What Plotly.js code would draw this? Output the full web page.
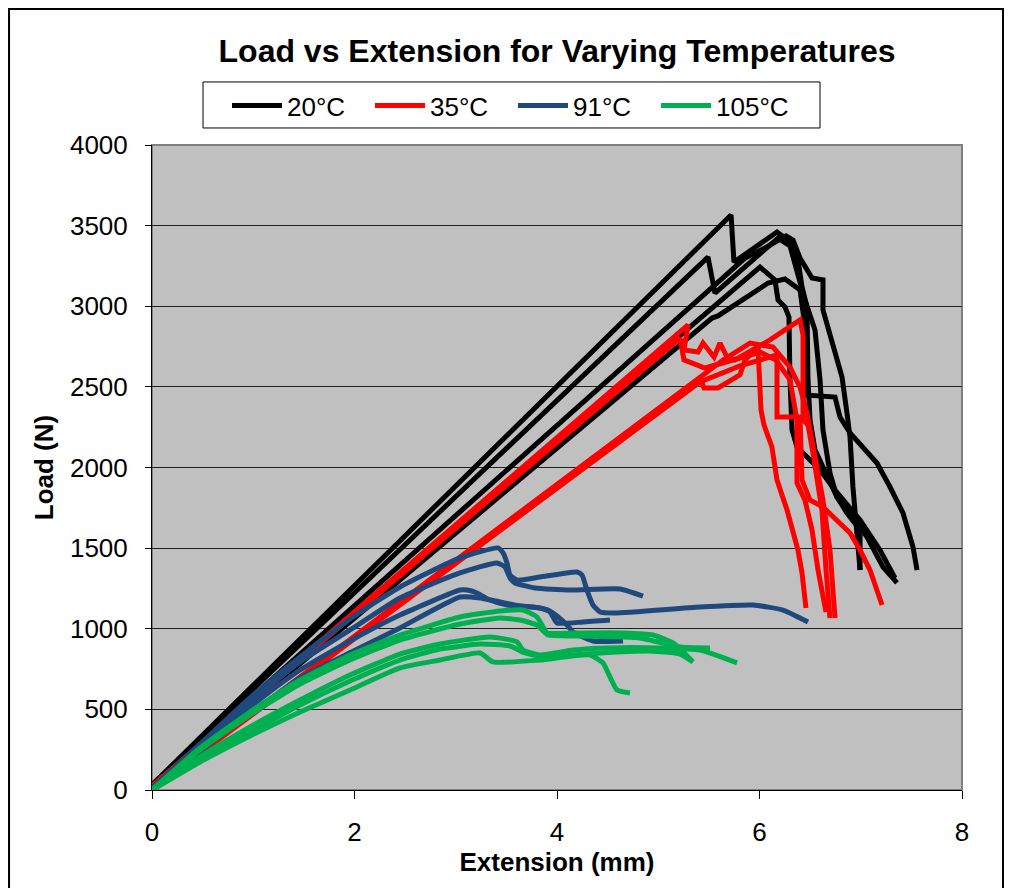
<!DOCTYPE html>
<html>
<head>
<meta charset="utf-8">
<script src="https://cdn.plot.ly/plotly-3.0.1.min.js"></script>
<style>
html,body{margin:0;padding:0;background:#fff;}
#chart{width:1009px;height:888px;}
</style>
</head>
<body>
<div id="chart"></div>
<script>
// ---- Data (Extension in mm, Load in N) ----
// 20°C specimens
const b1x = [0, 5.719, 5.748, 6.173, 6.281, 6.370, 6.420, 6.469, 6.479, 6.499, 6.548, 6.667, 6.765, 6.864, 6.993, 6.993];
const b1y = [31, 3566, 3274, 3460, 3411, 3330, 3119, 2995, 2543, 2295, 2109, 1941, 1817, 1718, 1612, 1364];
const b2x = [0, 5.491, 5.560, 6.183, 6.301, 6.370, 6.449, 6.548, 6.598, 6.627, 6.696, 6.765, 6.894, 7.062, 7.220, 7.358];
const b2y = [31, 3305, 3082, 3423, 3374, 3225, 3039, 2853, 2543, 2233, 1966, 1817, 1718, 1569, 1383, 1284];
const b3x = [0, 5.531, 5.590, 6.005, 6.084, 6.252, 6.400, 6.440, 6.449, 6.746, 6.795, 6.894, 7.160, 7.289, 7.417, 7.516, 7.556];
const b3y = [12, 2927, 2940, 3107, 3144, 3169, 3101, 2915, 2450, 2437, 2313, 2214, 2028, 1879, 1718, 1507, 1364];
const b4x = [0, 6.005, 6.153, 6.183, 6.252, 6.291, 6.301, 6.321, 6.370, 6.469, 6.598, 6.746, 6.993, 7.190, 7.338];
const b4y = [19, 3243, 3163, 3039, 2995, 2933, 2543, 2233, 2127, 2065, 1985, 1860, 1674, 1488, 1315];
const b5x = [0, 5.857, 6.054, 6.262, 6.331, 6.400, 6.519, 6.627, 6.627, 6.696, 6.765, 6.815, 6.864, 6.894, 6.923, 6.963, 6.993];
const b5y = [25, 3299, 3361, 3436, 3411, 3299, 3175, 3163, 2977, 2834, 2685, 2561, 2338, 2189, 1879, 1612, 1364];

// 35°C specimens
const r1x = [0, 5.294, 5.254, 5.393, 5.442, 5.551, 5.610, 5.679, 5.758, 6.104, 6.400, 6.430, 6.430, 6.479, 6.528, 6.578, 6.617, 6.657, 6.696];
const r1y = [25, 2884, 2729, 2716, 2772, 2685, 2772, 2685, 2667, 2791, 2915, 2822, 2295, 2264, 2090, 1904, 1736, 1364, 1067];
const r2x = [0, 5.640, 5.906, 6.133, 6.301, 6.400, 6.469, 6.499, 6.568, 6.627, 6.696, 6.746];
const r2y = [12, 2667, 2772, 2747, 2623, 2499, 2338, 2233, 2003, 1798, 1488, 1067];
const r3x = [0, 5.412, 5.452, 5.590, 5.807, 5.857, 5.985, 6.005, 6.015, 6.044, 6.123, 6.173, 6.272, 6.380, 6.420, 6.459];
const r3y = [12, 2555, 2493, 2493, 2574, 2667, 2747, 2543, 2357, 2264, 2127, 1922, 1736, 1488, 1346, 1129];
const r4x = [0, 5.412, 5.807, 6.104, 6.173, 6.173, 6.400, 6.420, 6.499, 6.627, 6.765, 6.894, 6.993, 7.091, 7.210];
const r4y = [6, 2530, 2630, 2679, 2698, 2313, 2313, 1922, 1798, 1755, 1674, 1594, 1488, 1364, 1147];
const r5x = [0, 5.215, 5.254, 5.462, 5.807, 6.005, 6.163, 6.301, 6.370, 6.370, 6.449, 6.519, 6.578, 6.657];
const r5y = [25, 2803, 2667, 2617, 2679, 2716, 2667, 2543, 2295, 1904, 1798, 1612, 1364, 1104];

// 91°C specimens
const u1x = [0, 0.5, 1.0, 1.462, 2.0, 2.449, 3.042, 3.417, 3.467, 3.506, 3.536, 3.605, 3.832, 4.198, 4.247, 4.296, 4.356, 4.425, 4.573, 5.412, 5.936, 6.232, 6.479];
const u1y = [12, 300, 590, 825, 1080, 1259, 1439, 1501, 1470, 1408, 1333, 1302, 1321, 1352, 1333, 1240, 1147, 1104, 1098, 1135, 1147, 1116, 1042];
const u2x = [0, 0.5, 1.0, 1.462, 2.0, 2.449, 3.042, 3.407, 3.486, 3.536, 3.585, 3.783, 4.128, 4.622, 4.849];
const u2y = [12, 290, 565, 794, 1010, 1191, 1346, 1408, 1383, 1315, 1284, 1253, 1240, 1247, 1203];
const u3x = [0, 0.5, 1.0, 1.462, 2.0, 2.449, 3.042, 3.111, 3.210, 3.338, 3.506, 3.763, 3.911, 4.000, 4.099, 4.158, 4.356, 4.652];
const u3y = [12, 275, 530, 744, 940, 1085, 1240, 1240, 1222, 1178, 1147, 1135, 1116, 1079, 1023, 980, 924, 924];
const u4x = [0, 0.5, 1.0, 1.462, 2.0, 2.449, 3.042, 3.240, 3.437, 3.635, 3.832, 3.931, 4.000, 4.257, 4.523];
const u4y = [12, 255, 485, 695, 865, 1005, 1197, 1191, 1166, 1141, 1129, 1104, 1036, 1042, 1054];

// 105°C specimens
const g1x = [0, 0.474, 0.968, 1.462, 1.956, 2.449, 3.042, 3.437, 3.664, 3.802, 3.862, 3.901, 4.158, 4.652, 4.948, 5.146, 5.343];
const g1y = [0, 260, 484, 682, 837, 961, 1073, 1110, 1116, 1073, 1011, 974, 974, 974, 961, 912, 794];
const g2x = [0, 0.474, 0.968, 1.462, 1.956, 2.449, 3.042, 3.437, 3.635, 3.802, 3.911, 4.227, 4.820, 5.215, 5.511];
const g2y = [0, 248, 465, 657, 806, 930, 1029, 1067, 1054, 1023, 961, 955, 943, 887, 881];
const g3x = [0, 0.474, 0.968, 1.462, 1.956, 2.449, 2.844, 3.338, 3.605, 3.664, 3.832, 4.158, 4.494, 4.988, 5.412, 5.778];
const g3y = [0, 205, 391, 558, 713, 843, 905, 949, 918, 868, 837, 868, 881, 881, 868, 788];
const g4x = [0, 0.474, 0.968, 1.462, 1.956, 2.449, 2.844, 3.240, 3.368, 3.832, 4.326, 4.454, 4.523, 4.593, 4.721];
const g4y = [0, 174, 335, 484, 620, 757, 806, 850, 794, 806, 837, 788, 701, 620, 602];
const g5x = [0, 0.474, 0.968, 1.462, 1.956, 2.449, 2.844, 3.240, 3.536, 3.684, 3.881, 4.425, 4.919, 5.215, 5.343];
const g5y = [0, 186, 360, 527, 676, 806, 874, 905, 893, 850, 825, 850, 862, 843, 794];

const groups = [
  {name: '20°C',  color: '#000000', smooth: false, series: [[b1x,b1y],[b2x,b2y],[b3x,b3y],[b4x,b4y],[b5x,b5y]]},
  {name: '35°C',  color: '#FF0000', smooth: false, series: [[r1x,r1y],[r2x,r2y],[r3x,r3y],[r4x,r4y],[r5x,r5y]]},
  {name: '91°C',  color: '#1F497D', smooth: true,  series: [[u1x,u1y],[u2x,u2y],[u3x,u3y],[u4x,u4y]]},
  {name: '105°C', color: '#00B050', smooth: true,  series: [[g1x,g1y],[g2x,g2y],[g3x,g3y],[g4x,g4y],[g5x,g5y]]}
];

const xTicks = [0, 2, 4, 6, 8];
const yTicks = [0, 500, 1000, 1500, 2000, 2500, 3000, 3500, 4000];

const traces = [];
groups.forEach(g => {
  g.series.forEach((s, i) => {
    const line = {color: g.color, width: 5};
    if (g.smooth) { line.shape = 'spline'; line.smoothing = 0.5; }
    traces.push({
      type: 'scatter', mode: 'lines',
      x: s[0], y: s[1],
      name: g.name, legendgroup: g.name,
      showlegend: i === 0,
      line: line
    });
  });
});

const FONT = 'Liberation Sans, Arial, sans-serif';

const layout = {
  width: 1009, height: 888,
  margin: {l: 152, r: 47, t: 145, b: 98, autoexpand: false},
  paper_bgcolor: '#FFFFFF',
  plot_bgcolor: '#C0C0C0',
  font: {family: FONT, size: 26, color: '#000'},
  title: {
    text: '<b>Load vs Extension for Varying Temperatures</b>',
    font: {family: FONT, size: 32, color: '#000'},
    x: 0.5, xref: 'paper', xanchor: 'center',
    y: 0.943, yref: 'container', yanchor: 'middle'
  },
  xaxis: {
    range: [0, 8], tickvals: xTicks, ticktext: xTicks.map(String),
    showgrid: false, zeroline: false,
    showline: true, linecolor: '#000', linewidth: 1,
    ticks: 'outside', ticklen: 8, tickcolor: '#000', tickwidth: 1,
    ticklabelstandoff: 11,
    tickfont: {family: FONT, size: 26},
    title: {text: '<b>Extension (mm)</b>', font: {family: FONT, size: 26}, standoff: 2}
  },
  yaxis: {
    range: [0, 4000], tickvals: yTicks, ticktext: yTicks.map(String),
    showgrid: true, gridcolor: '#202020', gridwidth: 1,
    zeroline: false,
    showline: true, linecolor: '#000', linewidth: 1,
    ticks: 'outside', ticklen: 6, tickcolor: '#000', tickwidth: 1,
    ticklabelstandoff: 12,
    tickfont: {family: FONT, size: 26},
    title: {text: '<b>Load (N)</b>', font: {family: FONT, size: 26}, standoff: 8}
  },
  legend: {
    orientation: 'h',
    x: 0.0926, xanchor: 'left', y: 1.0977, yanchor: 'top',
    bgcolor: 'rgba(0,0,0,0)', borderwidth: 0,
    font: {family: FONT, size: 26, color: '#000'},
    entrywidth: 78, entrywidthmode: 'pixels',
    itemwidth: 50,
    traceorder: 'normal'
  },
  shapes: [
    {type: 'rect', xref: 'paper', yref: 'paper', x0: 0, x1: 1, y0: 0, y1: 1,
     line: {color: '#808080', width: 2}, fillcolor: 'rgba(0,0,0,0)', layer: 'below'},
    {type: 'rect', xref: 'paper', yref: 'paper', x0: -0.1765, x1: 1.0506, y0: -0.16, y1: 1.2109,
     line: {color: '#000', width: 2}, fillcolor: 'rgba(0,0,0,0)', layer: 'below'},
    {type: 'rect', xref: 'paper', yref: 'paper', x0: 0.063, x1: 0.8247, y0: 1.0264, y1: 1.0977,
     line: {color: '#000', width: 1}, fillcolor: '#FFFFFF', layer: 'above'}
  ]
};

Plotly.newPlot('chart', traces, layout, {displayModeBar: false, staticPlot: true});
</script>
</body>
</html>
